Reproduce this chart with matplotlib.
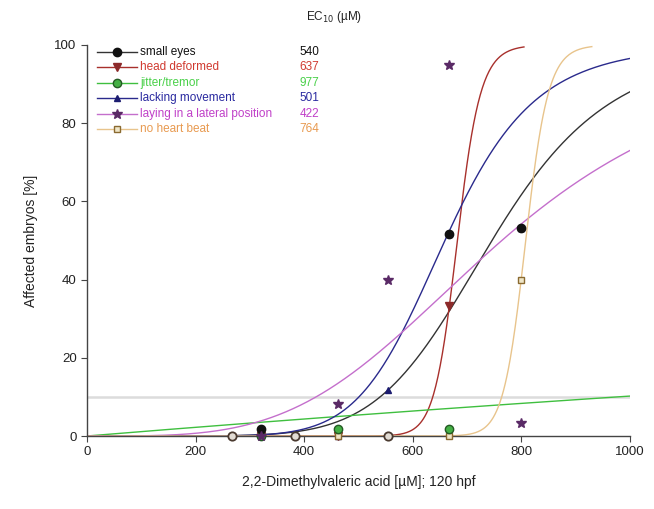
#!/usr/bin/env python3
"""Concentration-response of zebrafish embryo endpoints for 2,2-dimethylvaleric acid."""

import matplotlib
import numpy as np

matplotlib.use("Agg")
import matplotlib.pyplot as plt
from matplotlib.lines import Line2D

plt.rcParams["font.family"] = ["Liberation Sans", "DejaVu Sans"]

# endpoints, EC10 values and fitted Hill slopes
endpoints = [
    "small eyes",
    "head deformed",
    "jitter/tremor",
    "lacking movement",
    "laying in a lateral position",
    "no heart beat",
]
ec10_um = [540, 637, 977, 501, 422, 764]
hill_slope = [6.8, 32.0, 1.0, 8.0, 3.7, 39.0]
curve_end_um = [1000, 805, 1000, 1000, 1000, 930]

# observed effects per endpoint (concentration in µM, affected embryos in %)
small_eyes_conc = [320, 667, 800]
small_eyes_pct = [1.7, 51.7, 53.3]
head_deformed_conc = [320, 462, 667]
head_deformed_pct = [0.0, 0.0, 33.3]
jitter_conc = [320, 462, 667]
jitter_pct = [0.0, 1.7, 1.7]
lacking_conc = [320, 462, 555, 667, 800]
lacking_pct = [0.0, 0.0, 11.7, 51.7, 53.3]
lateral_conc = [320, 462, 555, 667, 800]
lateral_pct = [0.0, 8.3, 40.0, 95.0, 3.3]
heartbeat_conc = [320, 462, 667, 800]
heartbeat_pct = [0.0, 0.0, 0.0, 40.0]
# concentrations where no endpoint was affected (all markers overlap at 0 %)
no_effect_conc = [267, 383, 555]
no_effect_pct = [0.0, 0.0, 0.0]

threshold_pct = 10

line_colors = ["#333333", "#a8302c", "#3fbf3f", "#2a2a8c", "#c46fcc", "#e8c48c"]
text_colors = ["#111111", "#d03a30", "#49d049", "#2a2aa0", "#c040c8", "#e89a50"]
markers = [
    dict(marker="o", mfc="#111111", mec="#111111", ms=6),
    dict(marker="v", mfc="#8c2a2a", mec="#8c2a2a", ms=6),
    dict(marker="o", mfc="#44b044", mec="#245a24", ms=6),
    dict(marker="^", mfc="#1c1c70", mec="#1c1c70", ms=5),
    dict(marker="*", mfc="#5a2a66", mec="#5a2a66", ms=7.5),
    dict(marker="s", mfc="#efe6c8", mec="#8a6a30", ms=5),
]
observed = [
    (small_eyes_conc, small_eyes_pct),
    (head_deformed_conc, head_deformed_pct),
    (jitter_conc, jitter_pct),
    (lacking_conc, lacking_pct),
    (lateral_conc, lateral_pct),
    (heartbeat_conc, heartbeat_pct),
]


def hill(conc, ec10, slope):
    ec50 = ec10 * 9.0 ** (1.0 / slope)
    return 100.0 / (1.0 + (ec50 / conc) ** slope)


fig = plt.figure(figsize=(6.54, 5.09), dpi=100)
ax = fig.add_axes([0.133, 0.1434, 0.830, 0.7682])

ax.axhline(threshold_pct, color="#dcdcdc", lw=1.8, zorder=1)

for i in range(len(endpoints)):
    conc = np.linspace(1, curve_end_um[i], 600)
    ax.plot(conc, hill(conc, ec10_um[i], hill_slope[i]), color=line_colors[i], lw=1.0, zorder=2)

# zero-effect markers first so the labelled markers sit on top
ax.plot(no_effect_conc, no_effect_pct, ls="none", marker="o", ms=6,
        mfc="#e2dcd4", mec="#4a3a30", mew=1.3, zorder=3, clip_on=False)
draw_order = [1, 3, 5, 2, 0, 4]
for i in draw_order:
    x, y = observed[i]
    ax.plot(x, y, ls="none", zorder=4, clip_on=False, **markers[i])

ax.set_xlim(0, 1000)
ax.set_ylim(0, 100)
ax.set_xticks(range(0, 1001, 200))
ax.set_yticks(range(0, 101, 20))
ax.spines["top"].set_visible(False)
ax.spines["right"].set_visible(False)
for side in ("left", "bottom"):
    ax.spines[side].set_color("#444444")
    ax.spines[side].set_linewidth(1.0)
ax.tick_params(direction="out", length=4, width=0.8, color="#444444",
               labelsize=9.5, labelcolor="#222222")
ax.set_xlabel("2,2-Dimethylvaleric acid [µM]; 120 hpf", fontsize=10, color="#222222", labelpad=12)
ax.set_ylabel("Affected embryos [%]", fontsize=10, color="#222222", labelpad=12)

# hand-drawn legend with EC10 column
row_top = 0.982
row_step = 0.0394
for i, name in enumerate(endpoints):
    y = row_top - i * row_step
    ax.add_line(Line2D([0.018, 0.092], [y, y], transform=ax.transAxes,
                       color=line_colors[i], lw=1.0, clip_on=False))
    ax.add_line(Line2D([0.055], [y], transform=ax.transAxes, ls="none",
                       clip_on=False, **markers[i]))
    ax.text(0.098, y, name, transform=ax.transAxes, fontsize=8.5,
            color=text_colors[i], va="center", ha="left")
    ax.text(0.428, y, str(ec10_um[i]), transform=ax.transAxes, fontsize=8.5,
            color=text_colors[i], va="center", ha="right")
ax.text(0.455, 1.072, "EC$_{10}$ (µM)", transform=ax.transAxes, fontsize=8.5,
        color="#222222", va="center", ha="center")

fig.savefig("out.png", dpi=100)
